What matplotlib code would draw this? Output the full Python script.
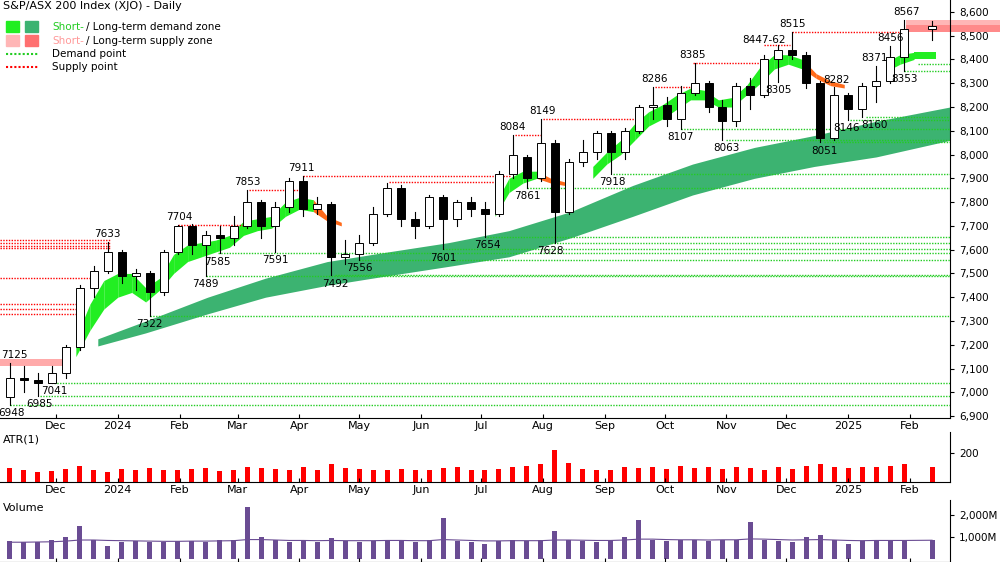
import matplotlib
matplotlib.use("Agg")
import matplotlib.pyplot as plt
import matplotlib.dates as mdates
import numpy as np
import pandas as pd
from matplotlib.patches import Rectangle

weeks = pd.date_range("2023-11-06", periods=65, freq="7D")
opens = [6980,7060,7050,7040,7080,7190,7440,7510,7590,7490,7500,7420,7590,7700,7620,7660,7650,7700,7800,7700,7780,7890,7770,7790,7570,7580,7630,7750,7860,7730,7700,7820,7730,7800,7770,7750,7920,7990,7900,8050,7760,7970,8010,8090,8010,8100,8200,8210,8150,8260,8300,8200,8140,8290,8250,8400,8440,8420,8300,8070,8250,8190,8290,8310,8410]
highs = [7125,7110,7080,7110,7200,7450,7530,7633,7600,7520,7510,7600,7704,7710,7680,7700,7740,7853,7810,7800,7900,7911,7820,7800,7640,7660,7780,7880,7870,7760,7830,7830,7810,7820,7800,7930,8084,8000,8149,8060,7980,8060,8100,8100,8110,8210,8286,8240,8290,8385,8310,8230,8300,8320,8420,8462,8515,8430,8310,8282,8260,8300,8371,8456,8567]
lows = [6948,7000,6985,7041,7060,7180,7400,7500,7460,7430,7322,7410,7580,7580,7489,7585,7620,7690,7650,7591,7760,7740,7750,7492,7540,7556,7620,7740,7700,7650,7690,7601,7700,7740,7654,7740,7900,7861,7890,7628,7750,7950,7980,7918,7980,8090,8150,8120,8107,8250,8180,8063,8120,8190,8240,8305,8400,8280,8051,8060,8146,8160,8220,8300,8353]
closes = [7060,7050,7040,7080,7190,7440,7510,7590,7490,7500,7420,7590,7700,7620,7660,7650,7700,7800,7700,7780,7890,7770,7790,7570,7580,7630,7750,7860,7730,7700,7820,7730,7800,7770,7750,7920,8000,7900,8050,7760,7970,8010,8090,8010,8100,8200,8210,8150,8260,8300,8200,8140,8290,8250,8400,8440,8420,8300,8070,8250,8190,8290,8310,8410,8530]
weeks = weeks.append(pd.DatetimeIndex(["2025-02-10"]))
opens.append(8530); highs.append(8560); lows.append(8480); closes.append(8540)

atr = [95,80,70,75,90,110,85,70,90,80,95,85,80,90,95,75,80,100,95,90,85,100,80,120,95,90,85,80,90,85,80,95,100,85,80,90,100,110,120,220,130,90,80,85,100,95,105,90,110,95,100,90,105,95,85,100,90,110,120,100,95,100,105,110,120,100]
volume = [850,800,780,900,1000,1500,900,600,800,850,800,780,820,850,800,870,900,2400,1000,900,800,850,800,950,850,800,850,900,850,800,900,1900,850,800,700,850,900,850,880,1300,900,850,800,880,1000,1800,900,850,900,880,850,900,880,1700,900,850,800,1000,1100,900,700,850,900,880,850,900]
vol_ma = [780,780,790,800,830,880,880,860,850,840,830,820,820,830,830,840,850,900,900,880,860,860,850,860,850,850,850,860,860,850,850,900,880,860,840,840,850,850,850,880,880,870,860,860,880,920,920,900,890,890,880,890,890,930,920,900,880,890,900,880,860,850,860,860,860,870]

sz_dates = ["2023-12-11","2023-12-18","2023-12-25","2024-01-01","2024-01-08","2024-01-15","2024-01-22","2024-01-29","2024-02-05","2024-02-12","2024-02-19","2024-02-26","2024-03-04","2024-03-11","2024-03-18","2024-03-25","2024-04-01","2024-04-08","2024-04-15","2024-04-22",
            "2024-07-08","2024-07-15","2024-07-22","2024-07-29","2024-08-05","2024-08-12",
            "2024-08-26","2024-09-02","2024-09-09","2024-09-16","2024-09-23","2024-09-30","2024-10-07","2024-10-14","2024-10-21","2024-10-28","2024-11-04","2024-11-11","2024-11-18","2024-11-25","2024-12-02","2024-12-09","2024-12-16","2024-12-23","2024-12-30",
            "2025-01-20","2025-01-27","2025-02-03","2025-02-14"]
sz_bot = [7150,7260,7350,7400,7420,7380,7430,7500,7550,7570,7590,7610,7660,7680,7690,7740,7770,7760,7720,7700,
          7740,7840,7880,7900,7880,7870,
          7900,7960,8000,8060,8120,8150,8190,8230,8230,8200,8200,8250,8300,8360,8380,8360,8320,8290,8280,
          8350,8380,8400,8400]
sz_top = [7230,7370,7470,7500,7500,7440,7480,7580,7620,7630,7640,7660,7720,7730,7740,7800,7820,7810,7740,7715,
          7790,7900,7930,7930,7900,7885,
          7950,8010,8060,8130,8180,8210,8250,8280,8270,8230,8240,8290,8370,8420,8420,8400,8340,8310,8295,
          8390,8420,8430,8430]
sz_state = list("ggggggggggggggggggoo") + list("ggggoo") + list("ggggggggggggggggoooo") + list("gggg")
sz_segments = [(0,20),(20,26),(26,45),(45,49)]

lz_dates = ["2023-12-22","2024-01-15","2024-02-15","2024-03-15","2024-04-15","2024-05-15","2024-06-15","2024-07-15","2024-08-15","2024-09-15","2024-10-15","2024-11-15","2024-12-15","2025-01-15","2025-02-21"]
lz_bot = [7195,7250,7330,7400,7450,7490,7530,7570,7650,7740,7830,7900,7950,7990,8060]
lz_top = [7225,7300,7400,7480,7550,7590,7630,7680,7760,7870,7960,8030,8080,8140,8200]

supply_lines = [("2023-11-03",7640,"2023-12-28"),("2023-11-03",7628,"2023-12-28"),("2023-11-03",7615,"2023-12-28"),("2023-11-03",7605,"2023-12-28"),
                ("2023-11-03",7480,"2023-12-18"),("2023-11-03",7370,"2023-12-14"),("2023-11-03",7350,"2023-12-14"),("2023-11-03",7330,"2023-12-14"),
                ("2024-01-31",7704,"2024-03-05"),("2024-03-07",7853,"2024-04-02"),("2024-04-03",7911,"2024-07-16"),("2024-05-16",7885,"2024-07-10"),
                ("2024-07-18",8084,"2024-07-31"),("2024-08-01",8149,"2024-09-20"),("2024-09-26",8286,"2024-10-14"),("2024-10-15",8385,"2024-11-22"),
                ("2024-11-20",8462,"2024-12-03"),("2024-12-04",8515,"2025-01-29")]
demand_lines = [("2023-11-08",6948),("2023-11-23",6985),("2023-11-30",7041),("2024-01-17",7322),("2024-02-14",7489),("2024-04-19",7492),
                ("2024-05-01",7556),("2024-02-20",7585),("2024-06-12",7601),("2024-08-05",7628),("2024-07-04",7654),("2024-07-24",7861),
                ("2024-09-05",7918),("2024-12-20",8051),("2024-11-01",8063),("2024-10-09",8107),("2025-01-02",8146),("2025-01-10",8160),
                ("2025-01-29",8353),("2025-02-05",8380)]
labels = [("2023-11-10",7125,"h"),("2023-11-09",6948,"l"),("2023-11-23",6985,"l"),("2023-11-30",7041,"l"),("2023-12-27",7633,"h"),
          ("2024-01-17",7322,"l"),("2024-02-01",7704,"h"),("2024-02-14",7489,"l"),("2024-02-20",7585,"l"),("2024-03-06",7853,"h"),
          ("2024-03-20",7591,"l"),("2024-04-02",7911,"h"),("2024-04-19",7492,"l"),("2024-05-01",7556,"l"),("2024-06-12",7601,"l"),
          ("2024-07-04",7654,"l"),("2024-07-17",8084,"h"),("2024-07-24",7861,"l"),("2024-08-01",8149,"h"),("2024-08-05",7628,"l"),
          ("2024-09-05",7918,"l"),("2024-09-26",8286,"h"),("2024-10-09",8107,"l"),("2024-10-15",8385,"h"),("2024-11-01",8063,"l"),
          ("2024-11-20",8447,"h"),("2024-11-27",8305,"l"),("2024-12-04",8515,"h"),("2024-12-20",8051,"l"),("2024-12-26",8282,"h"),
          ("2024-12-31",8146,"l"),("2025-01-14",8160,"l"),("2025-01-14",8371,"h"),("2025-01-22",8456,"h"),("2025-01-30",8567,"h"),("2025-01-29",8353,"l")]
label_text = {8447: "8447-62"}

fig = plt.figure(figsize=(10, 5.62), dpi=100)
W = 0.95
ax = fig.add_axes([0, 1-418/562, W, 418/562])
axa = fig.add_axes([0, 80/562, W, 50/562], sharex=ax)
axv = fig.add_axes([0, 0, W, 62/562], sharex=ax)

xl = (mdates.date2num(pd.Timestamp("2023-11-03")), mdates.date2num(pd.Timestamp("2025-02-21")))
xr = xl[1]
ax.set_xlim(*xl)
ax.set_ylim(6892, 8650)

ld = mdates.date2num(pd.to_datetime(lz_dates))
ax.fill_between(ld, lz_bot, lz_top, color="#3cb371", lw=0, zorder=1)
sd = mdates.date2num(pd.to_datetime(sz_dates))
for a, b in sz_segments:
    for i in range(a, b-1):
        c = "#22ee22" if sz_state[i+1] == "g" else "#ff6a1a"
        ax.fill_between(sd[i:i+2], sz_bot[i:i+2], sz_top[i:i+2], color=c, lw=0, zorder=2)

ax.fill_between([xl[0], mdates.date2num(pd.Timestamp("2023-12-08"))], 7110, 7140, color="#ffaaaa", lw=0, zorder=1)
zx0 = mdates.date2num(pd.Timestamp("2025-01-30"))
ax.fill_between([zx0, xr+30], 8545, 8567, color="#ffb6b6", lw=0, zorder=1, clip_on=False)
ax.fill_between([zx0, xr+30], 8515, 8545, color="#ff8a8a", lw=0, zorder=1, clip_on=False)

for s, v, e in supply_lines:
    ax.plot(mdates.date2num(pd.to_datetime([s, e])), [v, v], color="red", ls=(0, (1, 1)), lw=1, zorder=3)
for s, v in demand_lines:
    ax.plot([mdates.date2num(pd.Timestamp(s)), xr], [v, v], color="#22cc22", ls=(0, (1, 1)), lw=1, zorder=3)

wx = mdates.date2num(weeks) + 2
for x, o, h, l, c in zip(wx, opens, highs, lows, closes):
    ax.plot([x, x], [l, h], color="black", lw=0.8, zorder=4)
    ax.add_patch(Rectangle((x-2, min(o, c)), 4, max(abs(c-o), 3), facecolor="white" if c >= o else "black",
                           edgecolor="black", lw=0.7, zorder=5))

for d, v, k in labels:
    x = mdates.date2num(pd.Timestamp(d))
    ax.text(x, v + (12 if k == "h" else -14), label_text.get(v, str(v)), ha="center",
            va="bottom" if k == "h" else "top", fontsize=7.5, zorder=6)

ax.text(0.003, 0.998, "S&P/ASX 200 Index (XJO) - Daily", transform=ax.transAxes, fontsize=8, va="top")
for i, (c1, c2, word, col) in enumerate([("#22ee22", "#3cb371", "demand zone", "#22cc22"),
                                          ("#ffb6b6", "#ff7070", "supply zone", "#ff9999")]):
    y = 0.935 - i*0.032
    ax.add_patch(Rectangle((0.006, y-0.012), 0.014, 0.026, transform=ax.transAxes, color=c1, zorder=7))
    ax.add_patch(Rectangle((0.026, y-0.012), 0.014, 0.026, transform=ax.transAxes, color=c2, zorder=7))
    ax.text(0.055, y, "Short-", transform=ax.transAxes, color=col, fontsize=7.5, va="center")
    ax.text(0.09, y, "/ Long-term " + word, transform=ax.transAxes, fontsize=7.5, va="center")
ax.plot([0.006, 0.04], [0.871, 0.871], transform=ax.transAxes, color="#22cc22", ls=(0, (1, 1)), lw=1.5)
ax.text(0.055, 0.871, "Demand point", transform=ax.transAxes, fontsize=7.5, va="center")
ax.plot([0.006, 0.04], [0.839, 0.839], transform=ax.transAxes, color="red", ls=(0, (1, 1)), lw=1.5)
ax.text(0.055, 0.839, "Supply point", transform=ax.transAxes, fontsize=7.5, va="center")

axa.bar(wx, atr, width=2.5, color="red")
axa.set_ylim(0, 340)
axa.set_yticks([200]); axa.set_yticklabels(["200"])
axa.text(0.003, 0.95, "ATR(1)", transform=axa.transAxes, fontsize=8, va="top")
axv.bar(wx, volume, width=2.5, color="#6a4c93")
axv.plot(wx, vol_ma, color="#6a4c93", lw=0.8)
axv.set_ylim(-120, 2700)
axv.set_yticks([1000, 2000]); axv.set_yticklabels(["1,000M", "2,000M"])
axv.text(0.003, 0.95, "Volume", transform=axv.transAxes, fontsize=8, va="top")

yt = list(range(6900, 8601, 100))
ax.set_yticks(yt); ax.set_yticklabels([f"{v:,}" for v in yt])

months = pd.date_range("2023-12-01", "2025-02-01", freq="MS")
mlab = [("2024" if m.month == 1 and m.year == 2024 else "2025" if m.month == 1 else m.strftime("%b")) for m in months]
for a in (ax, axa, axv):
    a.yaxis.tick_right()
    a.tick_params(axis="y", labelsize=7.5, length=3, direction="out")
    a.set_xticks(mdates.date2num(months))
    a.tick_params(axis="x", length=3, labelsize=8, direction="in", pad=2)
    for s in a.spines.values():
        s.set_linewidth(0.8)
    a.spines["left"].set_visible(False)
    a.spines["top"].set_visible(False)
ax.set_xticklabels(mlab)
axa.set_xticklabels(mlab)
axv.tick_params(axis="x", labelbottom=False)
fig.savefig("out.png", dpi=100)
